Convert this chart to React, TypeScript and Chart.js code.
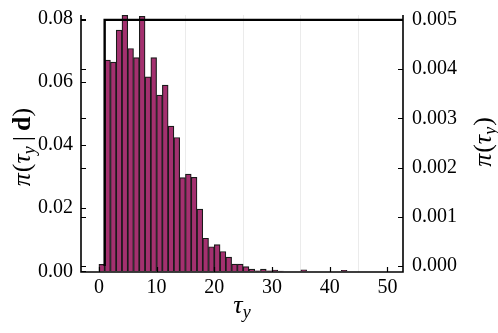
import React, { useEffect, useRef } from "react";
import { Chart, registerables } from "chart.js";

Chart.register(...registerables);

// Histogram bins (left edge of each unit-wide bin)
const binStarts = [
  0, 1, 2, 3, 4, 5, 6, 7, 8, 9, 10, 11, 12, 13, 14, 15, 16, 17, 18, 19, 20,
  21, 22, 23, 24, 25, 26, 27, 28, 29, 30, 31, 32, 33, 34, 35, 36, 37, 38, 39,
  40, 41, 42, 43, 44, 45, 46, 47, 48, 49, 50,
];
// Posterior density pi(tau_y | d)
const posteriorDensity = [
  0.0022, 0.0669, 0.0663, 0.0764, 0.0811, 0.0706, 0.0677, 0.0808, 0.0616,
  0.0677, 0.0558, 0.059, 0.046, 0.0424, 0.0297, 0.0308, 0.0298, 0.0197,
  0.0105, 0.0078, 0.0085, 0.0063, 0.0045, 0.0023, 0.0023, 0.0015, 0.0007,
  0.0002, 0.0007, 0.0002, 0.0004, 0.0001, 0, 0, 0, 0.0005, 0, 0, 0, 0, 0, 0,
  0.0003, 0, 0, 0, 0, 0, 0, 0, 0,
];
// Uniform prior pi(tau_y)
const priorX = [1, 1, 60];
const priorY = [0, 0.005, 0.005];

const xTicks = [0, 10, 20, 30, 40, 50];
const leftTicks = [0, 0.02, 0.04, 0.06, 0.08];
const rightTicks = [0, 0.001, 0.002, 0.003, 0.004, 0.005];

const FONT = '"Liberation Serif", "DejaVu Serif", serif';
const TICK_SIZE = 20;
const TITLE_SIZE = 26;

type Part = { t: string; font: string; dy?: number; pre?: number; post?: number };

function drawParts(
  ctx: CanvasRenderingContext2D,
  parts: Part[],
  cx: number,
  cy: number,
  angle: number,
  baseOffset: number
) {
  ctx.save();
  ctx.translate(cx, cy);
  ctx.rotate(angle);
  ctx.fillStyle = "#000";
  ctx.textAlign = "left";
  ctx.textBaseline = "alphabetic";
  let total = 0;
  const widths = parts.map((p) => {
    ctx.font = p.font;
    const w = (p.pre || 0) + ctx.measureText(p.t).width + (p.post || 0);
    total += w;
    return w;
  });
  let x = -total / 2;
  parts.forEach((p, i) => {
    ctx.font = p.font;
    ctx.fillText(p.t, x + (p.pre || 0), baseOffset + (p.dy || 0));
    x += widths[i];
  });
  ctx.restore();
}

const it = (s: number) => `italic ${s}px ${FONT}`;
const up = (s: number) => `${s}px ${FONT}`;
const bd = (s: number) => `bold ${s}px ${FONT}`;

const framePlugin = {
  id: "frame",
  afterDraw(chart: any) {
    const ctx: CanvasRenderingContext2D = chart.ctx;
    const { left, right, top, bottom } = chart.chartArea;
    const xs = chart.scales.x;
    const y1 = chart.scales.y;
    const y2 = chart.scales.y2;
    ctx.save();
    ctx.strokeStyle = "#000";
    ctx.lineWidth = 1.6;
    ctx.beginPath();
    ctx.moveTo(left, top);
    ctx.lineTo(left, bottom);
    ctx.lineTo(right, bottom);
    ctx.lineTo(right, top);
    ctx.stroke();
    ctx.lineWidth = 1.2;
    const L = 5;
    ctx.beginPath();
    xTicks.forEach((v) => {
      const px = Math.round(xs.getPixelForValue(v)) + 0.5;
      ctx.moveTo(px, bottom);
      ctx.lineTo(px, bottom - L);
    });
    leftTicks.forEach((v) => {
      const py = Math.round(y1.getPixelForValue(v)) + 0.5;
      ctx.moveTo(left, py);
      ctx.lineTo(left + L, py);
    });
    rightTicks.forEach((v) => {
      const py = Math.round(y2.getPixelForValue(v)) + 0.5;
      ctx.moveTo(left, py);
      ctx.lineTo(left + L, py);
      ctx.moveTo(right, py);
      ctx.lineTo(right - L, py);
    });
    ctx.stroke();
    ctx.restore();

    // Left title: pi(tau_y | d)
    drawParts(
      ctx,
      [
        { t: "π", font: it(TITLE_SIZE) },
        { t: "(", font: up(TITLE_SIZE), pre: 1 },
        { t: "τ", font: it(TITLE_SIZE) },
        { t: "y", font: it(18), dy: 5 },
        { t: "|", font: up(TITLE_SIZE), pre: 5, post: 5 },
        { t: "d", font: bd(TITLE_SIZE) },
        { t: ")", font: up(TITLE_SIZE) },
      ],
      22,
      147,
      -Math.PI / 2,
      8
    );
    // Right title: pi(tau_y)
    drawParts(
      ctx,
      [
        { t: "π", font: it(TITLE_SIZE) },
        { t: "(", font: up(TITLE_SIZE), pre: 1 },
        { t: "τ", font: it(TITLE_SIZE) },
        { t: "y", font: it(18), dy: 5 },
        { t: ")", font: up(TITLE_SIZE), pre: 1 },
      ],
      483,
      142,
      -Math.PI / 2,
      8
    );
    // Bottom title: tau_y
    drawParts(
      ctx,
      [
        { t: "τ", font: it(TITLE_SIZE) },
        { t: "y", font: it(18), dy: 5 },
      ],
      242,
      305,
      0,
      8
    );
  },
};

const zeroPad = (s: any) => {
  s.paddingTop = 0;
  s.paddingBottom = 0;
  s.paddingLeft = 0;
  s.paddingRight = 0;
};

export default function App() {
  const ref = useRef<HTMLCanvasElement | null>(null);
  useEffect(() => {
    if (!ref.current) return;
    const barData = binStarts.map((b, i) => ({ x: b + 0.5, y: posteriorDensity[i] }));
    const priorData = priorX.map((x, i) => ({ x, y: priorY[i] }));
    const chart = new Chart(ref.current, {
      type: "bar",
      data: {
        datasets: [
          {
            type: "line",
            label: "prior",
            data: priorData,
            yAxisID: "y2",
            borderColor: "#000",
            borderWidth: 2.4,
            pointRadius: 0,
            fill: false,
            tension: 0,
            order: 0,
          } as any,
          {
            type: "bar",
            label: "posterior",
            data: barData,
            yAxisID: "y",
            backgroundColor: "#a4306f",
            borderColor: "#1a1a1a",
            borderWidth: 1.2,
            barPercentage: 1,
            categoryPercentage: 1,
            grouped: false,
            order: 1,
          } as any,
        ],
      },
      options: {
        animation: false,
        responsive: false,
        devicePixelRatio: 1,
        layout: { padding: { top: 15, left: 0, right: 0, bottom: 0 } },
        plugins: { legend: { display: false }, tooltip: { enabled: false } },
        scales: {
          x: {
            type: "linear",
            min: -3.1,
            max: 52.7,
            offset: false,
            afterBuildTicks: (s: any) => {
              s.ticks = xTicks.map((v) => ({ value: v }));
            },
            afterFit: (s: any) => {
              s.height = 61;
              zeroPad(s);
            },
            grid: { display: true, color: "#ebebeb", lineWidth: 1, drawTicks: false },
            border: { display: false },
            ticks: {
              padding: 4,
              color: "#000",
              font: { family: FONT, size: TICK_SIZE },
              callback: (v: any) => String(v),
              maxRotation: 0,
            },
          },
          y: {
            type: "linear",
            position: "left",
            min: -0.0002,
            max: 0.0812,
            afterBuildTicks: (s: any) => {
              s.ticks = leftTicks.map((v) => ({ value: v }));
            },
            afterFit: (s: any) => {
              s.width = 81;
              zeroPad(s);
            },
            grid: { display: false, drawTicks: false },
            border: { display: false },
            ticks: {
              padding: 8,
              color: "#000",
              font: { family: FONT, size: TICK_SIZE },
              callback: (v: any) => Number(v).toFixed(2),
            },
          },
          y2: {
            type: "linear",
            position: "right",
            min: -0.00012,
            max: 0.0051,
            afterBuildTicks: (s: any) => {
              s.ticks = rightTicks.map((v) => ({ value: v }));
            },
            afterFit: (s: any) => {
              s.width = 95;
              zeroPad(s);
            },
            grid: { display: false, drawTicks: false },
            border: { display: false },
            ticks: {
              padding: 9,
              color: "#000",
              font: { family: FONT, size: TICK_SIZE },
              callback: (v: any) => Number(v).toFixed(3),
            },
          },
        },
      },
      plugins: [framePlugin],
    });
    return () => chart.destroy();
  }, []);
  return (
    <div style={{ position: "absolute", left: 0, top: 0, width: 498, height: 333, background: "#fff" }}>
      <canvas ref={ref} width={498} height={333} style={{ display: "block" }} />
    </div>
  );
}
